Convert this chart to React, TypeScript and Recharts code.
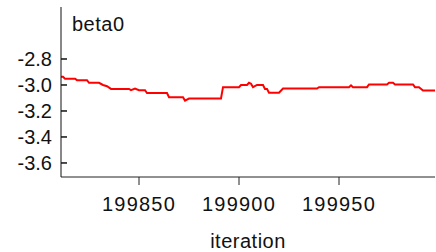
import React from "react";
import {
  LineChart,
  Line,
  XAxis,
  YAxis,
  Customized,
} from "recharts";

// vertices of the beta0 trace (iteration, value)
const iterations = [
  199811, 199812, 199813, 199818, 199819, 199824, 199825, 199830, 199832, 199834,
  199836, 199845, 199846, 199848, 199850, 199853, 199854, 199864, 199865, 199872,
  199873, 199875, 199891, 199892, 199900, 199901, 199904, 199905, 199906, 199907,
  199909, 199912, 199913, 199914, 199915, 199920, 199922, 199939, 199940, 199955,
  199956, 199957, 199964, 199965, 199974, 199975, 199977, 199978, 199987, 199988,
  199990, 199992, 199998,
];
const beta0 = [
  -2.937, -2.937, -2.952, -2.952, -2.963, -2.963, -2.983, -2.983, -3.0, -3.01,
  -3.03, -3.03, -3.04, -3.027, -3.04, -3.04, -3.062, -3.062, -3.094, -3.094,
  -3.12, -3.104, -3.104, -3.017, -3.017, -3.0, -3.0, -2.983, -2.99, -3.017,
  -3.0, -3.0, -3.03, -3.03, -3.06, -3.06, -3.027, -3.027, -3.017, -3.017,
  -3.003, -3.017, -3.017, -2.996, -2.996, -2.983, -2.983, -2.996, -2.996, -3.017,
  -3.017, -3.042, -3.042,
];
const xTicks = [199850, 199900, 199950];
const yTicks = [-3.6, -3.4, -3.2, -3.0, -2.8];

const data = iterations.map((it, i) => ({ iteration: it, beta0: beta0[i] }));

const FONT = "'Liberation Sans', Arial, sans-serif";

const YTick = (props: any) => {
  const { x, y, payload } = props;
  return (
    <g>
      <line x1={x + 9} x2={x + 15} y1={y} y2={y} stroke="#111" strokeWidth={1.5} />
      <text x={x} y={y} dy="0.355em" textAnchor="end" fill="#111" fontSize={20} fontFamily={FONT}>
        {payload.value.toFixed(1)}
      </text>
    </g>
  );
};

const Title = () => (
  <text x={72} y={31} fill="#111" fontSize={20} fontFamily={FONT} letterSpacing={0.5}>
    beta0
  </text>
);

const App = () => {
  return (
    <div style={{ position: "absolute", left: 0, top: 0 }}>
      <LineChart
        width={436}
        height={252}
        data={data}
        margin={{ top: 7, right: 1, bottom: 0, left: 0 }}
      >
        <XAxis
          dataKey="iteration"
          type="number"
          domain={[199811, 199998]}
          ticks={xTicks}
          allowDataOverflow
          height={75}
          stroke="#222"
          tickSize={8}
          tickMargin={12}
          tick={{ fill: "#111", fontSize: 20, fontFamily: FONT, letterSpacing: 1.2 }}
          label={{ value: "iteration", position: "insideBottom", offset: 4, fill: "#111", fontSize: 20, fontFamily: FONT, letterSpacing: 0.5 }}
        />
        <XAxis
          xAxisId="top"
          orientation="top"
          dataKey="iteration"
          type="number"
          domain={[199811, 199998]}
          height={0}
          tick={false}
          tickLine={false}
          stroke="#222"
        />
        <YAxis
          type="number"
          domain={[-3.708, -2.4]}
          ticks={yTicks}
          width={61}
          stroke="#111"
          tickSize={0}
          tickMargin={9}
          tick={<YTick />}
        />
        <YAxis
          yAxisId="right"
          orientation="right"
          domain={[-3.708, -2.4]}
          width={0}
          tick={false}
          tickLine={false}
          stroke="#aaa"
        />
        <Customized component={Title} />
        <Line
          dataKey="beta0"
          type="linear"
          stroke="#ff0000"
          strokeWidth={2}
          dot={false}
          isAnimationActive={false}
        />
      </LineChart>
    </div>
  );
};

export default App;
